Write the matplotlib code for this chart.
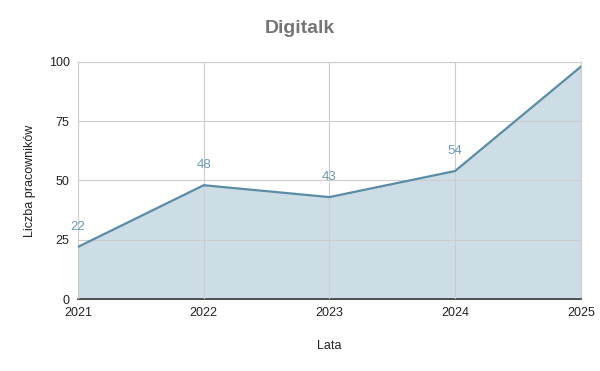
import matplotlib.pyplot as plt

plt.rcParams['font.family'] = ['Liberation Sans', 'DejaVu Sans']

lata = [2021, 2022, 2023, 2024, 2025]
pracownicy = [22, 48, 43, 54, 98]
etykiety = ['22', '48', '43', '54', '']

fig = plt.figure(figsize=(6, 3.71), dpi=100)
ax = fig.add_axes([0.13, 0.194, 0.838, 0.639])

kolor_linii = '#5a8ca6'
ax.fill_between(lata, pracownicy, 0, color='#cddde6', zorder=1)
ax.plot(lata, pracownicy, color=kolor_linii, linewidth=1.6, zorder=3)

for x, y, t in zip(lata, pracownicy, etykiety):
    if t:
        ax.annotate(t, (x, y), xytext=(0, 10), textcoords='offset points',
                    ha='center', va='bottom', fontsize=9.5, color='#6a9ab5')

ax.set_xlim(2021, 2025)
ax.set_ylim(0, 100)
ax.set_xticks(lata)
ax.set_yticks([0, 25, 50, 75, 100])
ax.grid(True, color='#cccccc', linewidth=0.8, zorder=2)
ax.set_axisbelow(False)
for s in ['top', 'right', 'left']:
    ax.spines[s].set_color('#cccccc')
    ax.spines[s].set_linewidth(0.8)
ax.spines['bottom'].set_color('#333333')
ax.spines['bottom'].set_linewidth(1.2)
ax.tick_params(length=0, labelsize=9, colors='#222222', pad=6)

ax.set_xlabel('Lata', fontsize=9, labelpad=15, color='#222222')
ax.set_ylabel('Liczba pracowników', fontsize=9, labelpad=9, color='#222222')
fig.suptitle('Digitalk', x=0.5, y=0.945, fontsize=14, fontweight='bold', color='#757575')

fig.savefig('out.png', dpi=100)
